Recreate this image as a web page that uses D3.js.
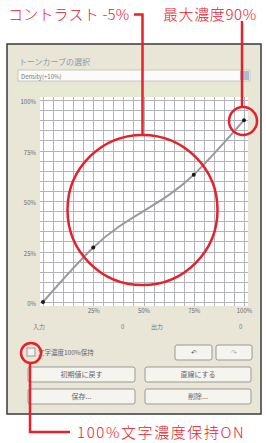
<!DOCTYPE html>
<html>
<head>
<meta charset="utf-8">
<script src="https://cdn.jsdelivr.net/npm/d3@7"></script>
<style>
  html, body { margin: 0; padding: 0; background: #fff; }
  svg { display: block; }
  text { font-family: "Noto Sans CJK JP", "Noto Sans", sans-serif; }
</style>
</head>
<body>
<svg id="chart" width="266" height="443"></svg>
<script>
// tone curve data (input % -> output %)
var inputPct = [0, 25, 75, 100];
var outputPct = [0, 27, 63, 90];
var yTicks = [0, 25, 50, 75, 100];
var xTicks = [25, 50, 75, 100];
var gridStep = 5;

var titleText = "トーンカーブの選択";
var presetText = "Density(+10%)";
var keepLabel = "文字濃度100%保持";
var annTop1 = "コントラスト -5%";
var annTop2 = "最大濃度90%";
var annBottom = "100%文字濃度保持ON";
var red = "#e8202a";

var svg = d3.select("#chart");

var x = d3.scaleLinear().domain([0, 100]).range([43, 244]);
var y = d3.scaleLinear().domain([0, 100]).range([302, 100]);

// dialog box
svg.append("rect")
    .attr("x", 7).attr("y", 44)
    .attr("width", 254).attr("height", 370)
    .attr("fill", "#e9e6d7")
    .attr("stroke", "#3a3a3a")
    .attr("stroke-width", 1.5);

svg.append("text")
    .text(titleText)
    .attr("x", 19).attr("y", 65)
    .attr("font-size", "8px")
    .attr("fill", "#8f98aa");

// preset dropdown
svg.append("rect")
    .attr("x", 18).attr("y", 70)
    .attr("width", 232).attr("height", 11)
    .attr("fill", "#fbfbfa")
    .attr("stroke", "#c9c6b8");
svg.append("rect")
    .attr("x", 240).attr("y", 71)
    .attr("width", 9).attr("height", 9)
    .attr("fill", "#a9bcd6");
svg.append("text")
    .text(presetText)
    .attr("x", 21).attr("y", 78.5)
    .attr("font-size", "6px")
    .attr("fill", "#777");

// band above the graph
svg.append("rect")
    .attr("x", 14).attr("y", 86)
    .attr("width", 240).attr("height", 10)
    .attr("fill", "#e6ead2");

// graph area
svg.append("rect")
    .attr("x", 40).attr("y", 97)
    .attr("width", 208).attr("height", 209)
    .attr("fill", "#fff");

var gridVals = d3.range(0, 100 + gridStep, gridStep);
var grid = svg.append("g").attr("stroke", "#b3b3bb").attr("stroke-width", 1);
grid.selectAll(".gx").data(gridVals).join("line")
    .attr("class", "gx")
    .attr("x1", function(d) { return Math.round(x(d)) + 0.5; })
    .attr("x2", function(d) { return Math.round(x(d)) + 0.5; })
    .attr("y1", 97).attr("y2", 306);
grid.selectAll(".gy").data(gridVals).join("line")
    .attr("class", "gy")
    .attr("y1", function(d) { return Math.round(y(d)) + 0.5; })
    .attr("y2", function(d) { return Math.round(y(d)) + 0.5; })
    .attr("x1", 40).attr("x2", 248);

// axes
var yAxis = svg.append("g")
    .attr("transform", "translate(39,2)")
    .call(d3.axisLeft(y).tickValues(yTicks).tickSize(0).tickFormat(function(d) { return d + "%"; }));
var xAxis = svg.append("g")
    .attr("transform", "translate(0,306)")
    .call(d3.axisBottom(x).tickValues(xTicks).tickSize(0).tickFormat(function(d) { return d + "%"; }));
[yAxis, xAxis].forEach(function(a) {
    a.select(".domain").remove();
    a.selectAll("text")
        .attr("font-size", "6px")
        .attr("fill", "#6a6a6a")
        .attr("font-family", "\"Noto Sans\", sans-serif");
});

// curve
var pts = inputPct.map(function(d, i) { return [d, outputPct[i]]; });
var line = d3.line()
    .x(function(d) { return x(d[0]); })
    .y(function(d) { return y(d[1]); })
    .curve(d3.curveMonotoneX);
svg.append("path")
    .datum(pts)
    .attr("d", line)
    .attr("fill", "none")
    .attr("stroke", "#9a9a9e")
    .attr("stroke-width", 2);
svg.selectAll(".pt").data(pts).join("circle")
    .attr("class", "pt")
    .attr("cx", function(d) { return x(d[0]); })
    .attr("cy", function(d) { return y(d[1]); })
    .attr("r", 2)
    .attr("fill", "#1a1a1a");

// input / output row
var rowLabels = [["入力", 33], ["0", 121], ["出力", 151], ["0", 239]];
svg.selectAll(".row").data(rowLabels).join("text")
    .attr("class", "row")
    .text(function(d) { return d[0]; })
    .attr("x", function(d) { return d[1]; })
    .attr("y", 329)
    .attr("font-size", "6px")
    .attr("fill", "#777");

// checkbox
svg.append("rect")
    .attr("x", 27).attr("y", 348)
    .attr("width", 8).attr("height", 8)
    .attr("fill", "#f4f3ee")
    .attr("stroke", "#999");
svg.append("text")
    .text(keepLabel)
    .attr("x", 38).attr("y", 355)
    .attr("font-size", "6.5px")
    .attr("fill", "#666");

// buttons
var buttons = [
    { label: "↶", x: 175, y: 345, w: 37, h: 15, fg: "#555" },
    { label: "↷", x: 216, y: 345, w: 36, h: 15, fg: "#aaa" },
    { label: "初期値に戻す", x: 28, y: 367, w: 107, h: 15, fg: "#666" },
    { label: "直線にする", x: 145, y: 367, w: 106, h: 15, fg: "#666" },
    { label: "保存...", x: 28, y: 389, w: 107, h: 15, fg: "#666" },
    { label: "削除...", x: 145, y: 389, w: 106, h: 15, fg: "#666" }
];
var btn = svg.selectAll(".btn").data(buttons).join("g").attr("class", "btn");
btn.append("rect")
    .attr("x", function(d) { return d.x; })
    .attr("y", function(d) { return d.y; })
    .attr("width", function(d) { return d.w; })
    .attr("height", function(d) { return d.h; })
    .attr("rx", 2)
    .attr("fill", "#f5f4ef")
    .attr("stroke", "#9a9a94");
btn.append("text")
    .text(function(d) { return d.label; })
    .attr("x", function(d) { return d.x + d.w / 2; })
    .attr("y", function(d) { return d.y + d.h / 2 + 2.5; })
    .attr("text-anchor", "middle")
    .attr("font-size", "7px")
    .attr("fill", function(d) { return d.fg; });

// red annotations
var ann = svg.append("g").attr("fill", "none").attr("stroke", red).attr("stroke-width", 2.5);
ann.append("circle").attr("cx", 142.5).attr("cy", 210).attr("r", 75);
ann.append("circle").attr("cx", 243).attr("cy", 121).attr("r", 14);
ann.append("circle").attr("cx", 31).attr("cy", 353).attr("r", 10);
ann.append("path").attr("d", "M134,14.5H142.5V135");
ann.append("path").attr("d", "M242,21V107");
ann.append("path").attr("d", "M30,363V432H70");

// text, x, baseline, letter spacing
var annText = [[annTop1, 8, 20, 0.2], [annTop2, 163, 20, 0.6], [annBottom, 77, 438, 1.6]];
svg.selectAll(".ann").data(annText).join("text")
    .attr("class", "ann")
    .text(function(d) { return d[0]; })
    .attr("x", function(d) { return d[1]; })
    .attr("y", function(d) { return d[2]; })
    .attr("letter-spacing", function(d) { return d[3]; })
    .attr("font-size", "15px")
    .attr("font-weight", 300)
    .attr("fill", red);
</script>
</body>
</html>
